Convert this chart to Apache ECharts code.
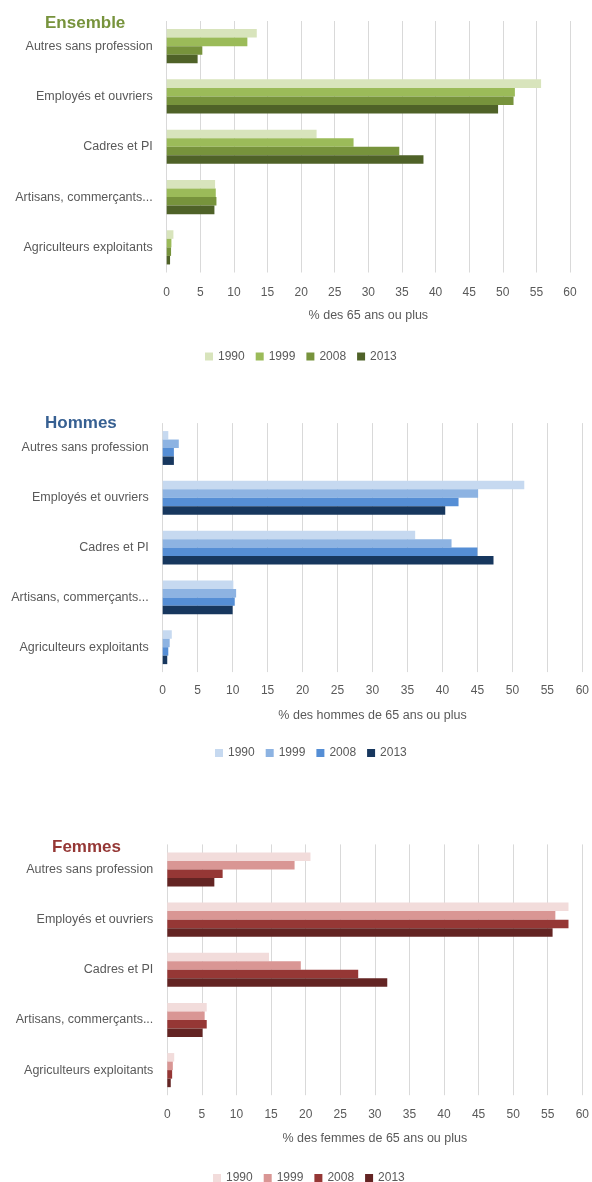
<!DOCTYPE html>
<html>
<head>
<meta charset="utf-8">
<script src="https://cdn.jsdelivr.net/npm/echarts@6/dist/echarts.min.js"></script>
<style>
  html, body { margin: 0; padding: 0; background: #ffffff; }
  #chart { width: 592px; height: 1182px; }
</style>
</head>
<body>
<div id="chart"></div>
<script>
// Catégories socioprofessionnelles des 65 ans ou plus, de haut en bas
const categories = [
  "Autres sans profession",
  "Employés et ouvriers",
  "Cadres et PI",
  "Artisans, commerçants...",
  "Agriculteurs exploitants"
];
const years = ["1990", "1999", "2008", "2013"];
const xTicks = [0, 5, 10, 15, 20, 25, 30, 35, 40, 45, 50, 55, 60];

// Ensemble (% des 65 ans ou plus)
const ensemble1990 = [13.4, 55.7, 22.3, 7.2, 1.0];
const ensemble1999 = [12.0, 51.8, 27.8, 7.3, 0.7];
const ensemble2008 = [5.3, 51.6, 34.6, 7.4, 0.65];
const ensemble2013 = [4.6, 49.3, 38.2, 7.1, 0.5];

// Hommes (% des hommes de 65 ans ou plus)
const hommes1990 = [0.8, 51.7, 36.1, 10.1, 1.3];
const hommes1999 = [2.3, 45.1, 41.3, 10.5, 1.0];
const hommes2008 = [1.6, 42.3, 45.0, 10.3, 0.8];
const hommes2013 = [1.6, 40.4, 47.3, 10.0, 0.65];

// Femmes (% des femmes de 65 ans ou plus)
const femmes1990 = [20.7, 58.0, 14.7, 5.7, 1.0];
const femmes1999 = [18.4, 56.1, 19.3, 5.4, 0.8];
const femmes2008 = [8.0, 58.0, 27.6, 5.7, 0.7];
const femmes2013 = [6.8, 55.7, 31.8, 5.1, 0.5];

const panels = [
  {
    key: "Ensemble", title: "Ensemble", titleColor: "#77933c",
    axisName: "% des 65 ans ou plus",
    values: [ensemble1990, ensemble1999, ensemble2008, ensemble2013],
    colors: ["#d8e4bc", "#9bbb59", "#77933c", "#4f6228"],
    grid: { left: 166.7, right: 22, top: 21, height: 251.5 },
    titlePos: [45, 25], legendPos: { left: 205, top: 350.5 }, labelMargin: 14
  },
  {
    key: "Hommes", title: "Hommes", titleColor: "#376092",
    axisName: "% des hommes de 65 ans ou plus",
    values: [hommes1990, hommes1999, hommes2008, hommes2013],
    colors: ["#c6d9f0", "#8db3e2", "#558ed5", "#17375e"],
    grid: { left: 162.7, right: 6.3, top: 423.1, height: 249 },
    titlePos: [45, 424.5], legendPos: { left: 215, top: 747 }, labelMargin: 13
  },
  {
    key: "Femmes", title: "Femmes", titleColor: "#953735",
    axisName: "% des femmes de 65 ans ou plus",
    values: [femmes1990, femmes1999, femmes2008, femmes2013],
    colors: ["#f2dcdb", "#d99694", "#953735", "#632423"],
    grid: { left: 167.3, right: 7, top: 844.4, height: 250.8 },
    titlePos: [52, 849], legendPos: { left: 213, top: 1172 }, labelMargin: 13
  }
];

const FONT = "'Liberation Sans', 'DejaVu Sans', sans-serif";
const TEXT = "#595959";

const grid = [], xAxis = [], yAxis = [], series = [], legend = [], graphic = [];

panels.forEach(function (p, i) {
  grid.push(Object.assign({ containLabel: false }, p.grid));
  xAxis.push({
    type: "value", gridIndex: i,
    min: xTicks[0], max: xTicks[xTicks.length - 1], interval: xTicks[1] - xTicks[0],
    axisLine: { show: false }, axisTick: { show: false },
    axisLabel: { color: TEXT, fontSize: 12, fontFamily: FONT, margin: p.labelMargin },
    splitLine: { show: true, lineStyle: { color: "#d9d9d9", width: 1 } },
    name: p.axisName, nameLocation: "middle", nameGap: 37,
    nameTextStyle: { color: TEXT, fontSize: 12.5, fontFamily: FONT }
  });
  yAxis.push({
    type: "category", gridIndex: i, data: categories, inverse: true,
    axisLine: { show: false }, axisTick: { show: false },
    axisLabel: { color: TEXT, fontSize: 12.5, fontFamily: FONT, margin: 14 },
    splitLine: { show: false }
  });
  const names = [];
  years.forEach(function (y, k) {
    const name = p.key + "|" + y;
    names.push(name);
    series.push({
      type: "bar", name: name, xAxisIndex: i, yAxisIndex: i,
      data: p.values[k],
      barGap: "0%", barCategoryGap: "32%",
      itemStyle: { color: p.colors[k] },
      emphasis: { disabled: true },
      animation: false
    });
  });
  legend.push({
    data: names, left: p.legendPos.left, top: p.legendPos.top,
    orient: "horizontal", padding: 0,
    icon: "rect", itemWidth: 8, itemHeight: 8, itemGap: 11,
    formatter: function (n) { return n.split("|")[1]; },
    textStyle: { color: TEXT, fontSize: 12, fontFamily: FONT },
    selectedMode: false
  });
  graphic.push({
    type: "text", left: p.titlePos[0], top: p.titlePos[1] - 10,
    style: {
      text: p.title, fill: p.titleColor,
      font: "bold 17px " + FONT
    }
  });
});

const chart = echarts.init(document.getElementById("chart"), null, { renderer: "canvas" });
chart.setOption({
  backgroundColor: "#ffffff",
  animation: false,
  grid: grid, xAxis: xAxis, yAxis: yAxis,
  series: series, legend: legend, graphic: graphic
});
</script>
</body>
</html>
